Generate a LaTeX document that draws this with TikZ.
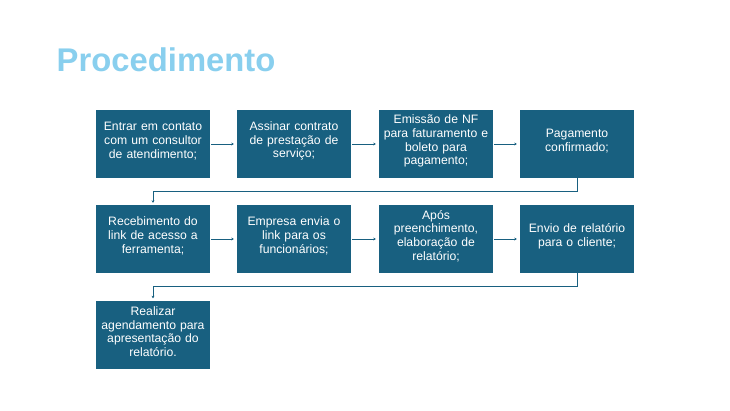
\documentclass[tikz,border=0pt]{standalone}
\usepackage{fontspec}
\setmainfont{Liberation Sans}
\usetikzlibrary{arrows.meta}
\definecolor{boxblue}{RGB}{24,96,128}
\definecolor{titleblue}{RGB}{137,207,238}
\tikzset{
  stepbox/.style={rectangle, fill=boxblue, minimum width=114pt, minimum height=68pt, inner sep=0pt},
  lbl/.style={text=white, text width=110pt, align=center, inner sep=0pt, yshift=3pt,
              font=\fontsize{12.2}{13.7}\selectfont},
  conn/.style={draw=boxblue, line width=1pt, -{Stealth[length=2.5pt,width=3pt]}}
}
\begin{document}
\begin{tikzpicture}[x=1pt,y=-1pt]
\useasboundingbox (0,0) rectangle (730,410);
\node[anchor=base west, text=titleblue, inner sep=0pt, font=\fontsize{32.8}{36}\selectfont\bfseries] (title) at (56.5,71) {Procedimento};

\node[stepbox, label={[lbl,name=t1]center:Entrar em contato\\com um consultor\\de atendimento;}] (b1) at (153,144) {};
\node[stepbox, label={[lbl,name=t2]center:Assinar contrato\\de prestação de\\serviço;}] (b2) at (294,144) {};
\node[stepbox, label={[lbl,name=t3]center:Emissão de NF\\para faturamento e\\boleto para\\pagamento;}] (b3) at (436,144) {};
\node[stepbox, label={[lbl,name=t4]center:Pagamento\\confirmado;}] (b4) at (577,144) {};

\node[stepbox, label={[lbl,name=t5]center:Recebimento do\\link de acesso a\\ferramenta;}] (b5) at (153,239) {};
\node[stepbox, label={[lbl,name=t6]center:Empresa envia o\\link para os\\funcionários;}] (b6) at (294,239) {};
\node[stepbox, label={[lbl,name=t7]center:Após\\preenchimento,\\elaboração de\\relatório;}] (b7) at (436,239) {};
\node[stepbox, label={[lbl,name=t8]center:Envio de relatório\\para o cliente;}] (b8) at (577,239) {};

\node[stepbox, label={[lbl,name=t9]center:Realizar\\agendamento para\\apresentação do\\relatório.}] (b9) at (153,334.5) {};

\draw[conn, shorten <=1pt, shorten >=3pt] (b1.east) -- (b2.west);
\draw[conn, shorten <=1pt, shorten >=3pt] (b2.east) -- (b3.west);
\draw[conn, shorten <=1pt, shorten >=3pt] (b3.east) -- (b4.west);
\draw[conn, shorten <=1pt, shorten >=3pt] (b5.east) -- (b6.west);
\draw[conn, shorten <=1pt, shorten >=3pt] (b6.east) -- (b7.west);
\draw[conn, shorten <=1pt, shorten >=3pt] (b7.east) -- (b8.west);

\draw[conn, shorten >=2pt] (b4.south) -- ([yshift=-13pt]b4.south) -| (b5.north);
\draw[conn, shorten >=2pt] (b8.south) -- ([yshift=-13pt]b8.south) -| (b9.north);
\end{tikzpicture}
\end{document}
